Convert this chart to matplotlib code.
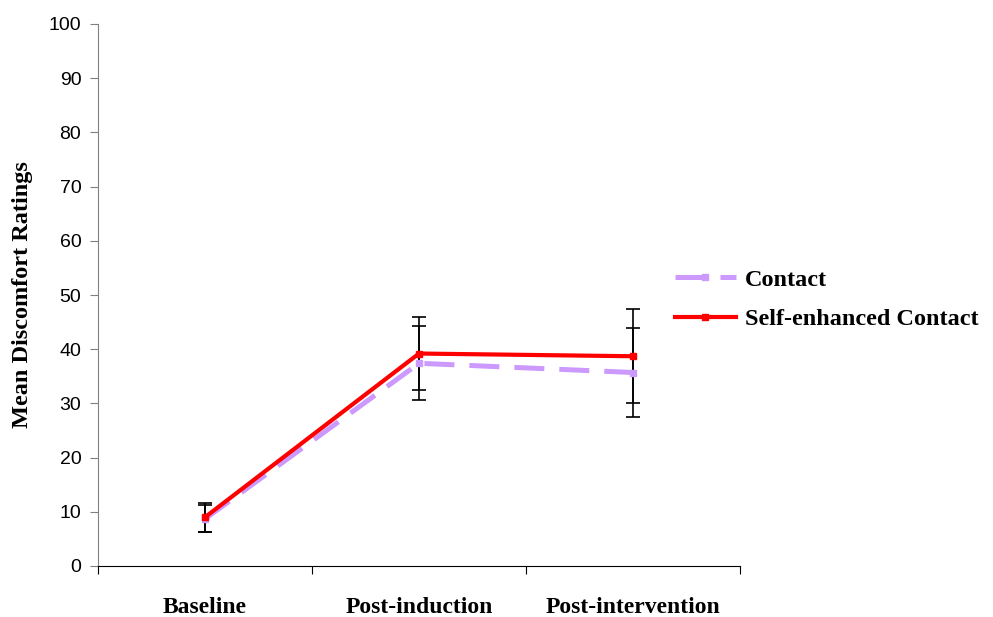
import matplotlib
matplotlib.use("Agg")
import matplotlib.pyplot as plt
import numpy as np

categories = ["Baseline", "Post-induction", "Post-intervention"]
contact = [8.7, 37.4, 35.7]
contact_err = [2.5, 6.8, 8.3]
self_enh = [9.0, 39.2, 38.7]
self_enh_err = [2.7, 6.8, 8.7]
yticks = list(range(0, 101, 10))

fig = plt.figure(figsize=(9.93, 6.17), dpi=100)
ax = fig.add_axes([98/993, 1-566/617, (740-98)/993, (566-24)/617])

x = np.arange(len(categories)) + 0.5
serif = "Liberation Serif"

ax.errorbar(x, contact, yerr=contact_err, fmt="none", ecolor="black",
            elinewidth=1.2, capsize=4.7, capthick=1.2, zorder=2)
ax.errorbar(x, self_enh, yerr=self_enh_err, fmt="none", ecolor="black",
            elinewidth=1.2, capsize=4.7, capthick=1.2, zorder=2)
ax.plot(x, contact, color="#CC99FF", lw=3.6, dashes=(6, 3), marker="s",
        markersize=4, label="Contact", zorder=3)
ax.plot(x, self_enh, color="#FF0000", lw=3.0, marker="s", markersize=4,
        label="Self-enhanced Contact", zorder=4)

ax.set_xlim(0, 3)
ax.set_ylim(0, 100)
ax.set_yticks(yticks)
ax.set_yticklabels([str(t) for t in yticks], family="Liberation Sans", fontsize=14)
ax.set_xticks([0, 1, 2, 3])
ax.set_xticklabels([])
ax.set_xticks(x, minor=True)
ax.set_xticklabels(categories, minor=True, family=serif, fontweight="bold", fontsize=17)
ax.tick_params(axis="x", which="minor", length=0, pad=22)
ax.tick_params(axis="x", which="major", length=6, direction="out", color="black")
ax.tick_params(axis="y", length=6, direction="out", color="#808080", pad=6)

for s in ["top", "right"]:
    ax.spines[s].set_visible(False)
ax.spines["left"].set_color("#808080")
ax.spines["bottom"].set_color("black")

ax.set_ylabel("Mean Discomfort Ratings", family=serif, fontweight="bold",
              fontsize=17.5, labelpad=11)

leg = fig.legend(loc="upper left", bbox_to_anchor=(653/993, 1-247/617), frameon=False,
                 prop={"family": serif, "weight": "bold", "size": 17.5},
                 handlelength=2.5, handletextpad=0.4, labelspacing=0.72)

fig.savefig("out.png", dpi=100)
